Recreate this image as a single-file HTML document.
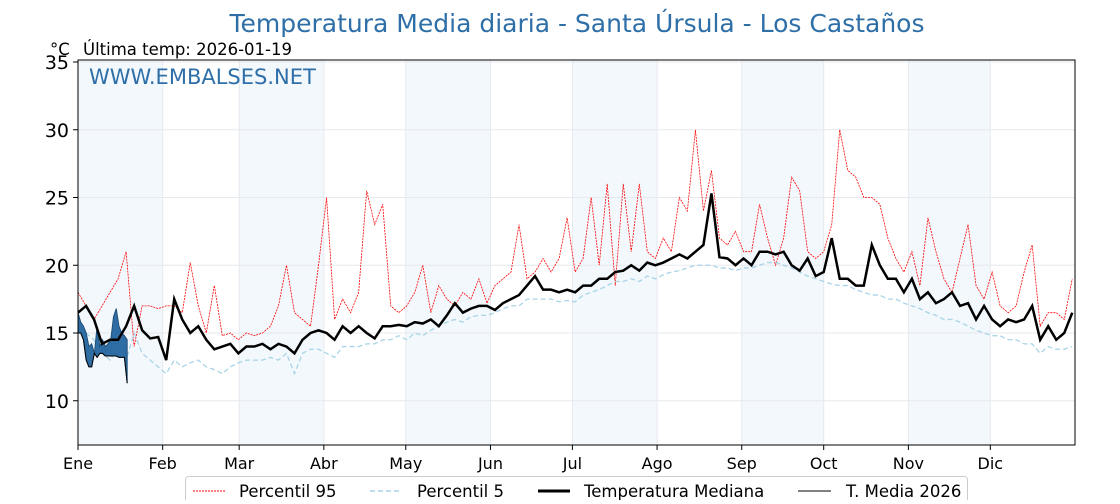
<!DOCTYPE html>
<html><head><meta charset="utf-8"><style>
body{margin:0;background:#fff;font-family:"DejaVu Sans","Liberation Sans",sans-serif;}
svg text{font-family:"DejaVu Sans","Liberation Sans",sans-serif;}
</style></head><body>
<svg id="chart" width="1120" height="500" xmlns="http://www.w3.org/2000/svg">
<g id="bands"></g><g id="grid"></g><g id="series"></g><g id="axes"></g>
<text x="577" y="32" text-anchor="middle" font-size="25" fill="#2e6fa8">Temperatura Media diaria - Santa Úrsula - Los Castaños</text>
<text x="50" y="55" font-size="16.5">°C</text>
<text x="83" y="55" font-size="16.5">Última temp: 2026-01-19</text>
<text x="89" y="84" font-size="21" fill="#2e6fa8">WWW.EMBALSES.NET</text>
<g>
<rect x="185.5" y="476.5" width="782" height="30" rx="3" fill="#fff" stroke="#ccc"/>
<line x1="193" y1="491" x2="225" y2="491" stroke="red" stroke-width="1" stroke-dasharray="2,1"/>
<text x="239" y="497" font-size="16.5">Percentil 95</text>
<line x1="370" y1="491" x2="402" y2="491" stroke="#a8d4e6" stroke-width="1.5" stroke-dasharray="5,3"/>
<text x="417" y="497" font-size="16.5">Percentil 5</text>
<line x1="538" y1="491" x2="570" y2="491" stroke="#000" stroke-width="3"/>
<text x="584" y="497" font-size="16.5">Temperatura Mediana</text>
<line x1="798" y1="491" x2="831" y2="491" stroke="#000" stroke-width="1"/>
<text x="846" y="497" font-size="16.5">T. Media 2026</text>
</g>
</svg>
<script>
const months=["Ene","Feb","Mar","Abr","May","Jun","Jul","Ago","Sep","Oct","Nov","Dic"];
const monthStart=[0,31,59,90,120,151,181,212,243,273,304,334];
const yTicks=[10,15,20,25,30,35];
const median=[16.5,17.0,16.0,14.2,14.5,14.5,15.5,17.0,15.2,14.6,14.7,
13.0,17.5,16.0,15.0,15.5,14.5,13.8,14.0,14.2,13.5,
14.0,14.0,14.2,13.8,14.2,14.0,13.5,14.5,15.0,15.2,
15.0,14.5,15.5,15.0,15.5,15.0,14.6,15.5,15.5,15.6,
15.5,15.8,15.7,16.0,15.5,16.3,17.2,16.5,16.8,17.0,17.0,
16.7,17.2,17.5,17.8,18.5,19.2,18.2,18.2,18.0,18.2,
18.0,18.5,18.5,19.0,19.0,19.5,19.6,20.0,19.6,20.2,
20.0,20.2,20.5,20.8,20.5,21.0,21.5,25.3,20.6,20.5,20.0,
20.5,20.0,21.0,21.0,20.8,21.0,20.0,19.6,20.5,19.2,
19.5,22.0,19.0,19.0,18.5,18.5,21.5,20.0,19.0,19.0,
18.0,19.0,17.5,18.0,17.2,17.5,18.0,17.0,17.2,16.0,
17.0,16.0,15.5,16.0,15.8,16.0,17.0,14.5,15.5,14.5,15.0,16.5];
const p95=[18,17,16,17,18,19,21,14,17,17,16.8,
17,17,16.5,20.2,17,15,18.5,14.8,15,14.5,
15,14.8,15,15.5,17,20,16.5,16,15.5,20,
25,16,17.5,16.5,18,25.5,23,24.5,17,16.5,
17,18,20,16.5,18.5,17.5,17,18,17.5,19,17.2,
18.5,19,19.5,23,19,19.5,20.5,19.5,20.5,23.5,
19.5,20.5,25,20,26,18.5,26,21,26,21,
20.5,22,21,25,24,30,24,27,22,21.5,22.5,
21,21,24.5,22,20,22,26.5,25.5,21,20.5,
21,23,30,27,26.5,25,25,24.5,22,20.5,
19.5,21,18.5,23.5,21,19,18,20.5,23,18.5,
17.5,19.5,17,16.5,17,19.5,21.5,15.5,16.5,16.5,16,19];
const p5=[15,15,14.5,13.5,13,14,13,15,13.5,13,12.5,
12,13,12.5,12.8,13,12.5,12.3,12,12.5,12.8,
13,13,13,13.2,13,13.5,12,13.5,13.8,13.8,
13.5,13.2,14,14,14,14.2,14.2,14.5,14.5,14.8,
14.5,15,14.8,15.2,15.5,15.8,16,15.8,16.2,16.3,16.3,
16.5,16.8,17,17,17.5,17.5,17.5,17.5,17.3,17.4,
17.3,17.8,18,18.2,18.5,18.8,18.8,19.0,18.8,19.2,
19,19.3,19.5,19.6,19.8,20,20,20,19.8,19.8,19.6,
19.8,19.8,20,20.2,20.2,20,19.8,19.5,19.2,19,
18.8,18.6,18.5,18.5,18.2,18,17.8,17.8,17.5,17.5,
17.2,17,16.8,16.5,16.3,16,16,15.8,15.5,15.2,
15,14.8,14.8,14.5,14.5,14.2,14.2,13.5,14,13.8,13.8,14];
const t2026High=[16.5,15.8,15.5,15.0,14.0,14.2,13.5,15.5,14.0,14.5,14.0,14.2,14.5,16.2,16.8,15.5,15.0,14.8,14.5];
const t2026Low=[15.0,15.0,14.5,13.0,12.5,12.5,13.5,13.2,13.5,13.5,13.3,13.3,13.3,13.3,13.3,13.2,13.2,13.2,11.3];

const X0=78,X1=1075,Y0=62,YK=13.55,YB=445;
const xs=d=>X0+d*(X1-X0)/365;
const ys=v=>Y0+(35-v)*YK;
const NS="http://www.w3.org/2000/svg";
function mk(tag,attrs,parent){const e=document.createElementNS(NS,tag);for(const k in attrs)e.setAttribute(k,attrs[k]);document.getElementById(parent).appendChild(e);return e;}
monthStart.forEach((d,i)=>{
  const end=i<11?monthStart[i+1]:365;
  if(i%2===0){const r=mk("rect",{x:xs(d),y:Y0-2,width:xs(end)-xs(d),height:YB-Y0+2,fill:"#f3f8fc"},"bands");
  
  }
  const g=mk("line",{x1:xs(d),x2:xs(d),y1:Y0-2,y2:YB,stroke:"#e6e9ee"},"grid");
  
  
  const t=mk("text",{x:xs(d),y:YB+24,"font-size":16,"text-anchor":"middle"},"axes");t.textContent=months[i];
  
  
  mk("line",{x1:xs(d),x2:xs(d),y1:YB,y2:YB+5,stroke:"#000"},"axes");
});
yTicks.forEach(v=>{
  const g=mk("line",{x1:X0,x2:X1,y1:ys(v),y2:ys(v),stroke:"#e6e9ee"},"grid");
  
  
  mk("line",{x1:X0-5,x2:X0,y1:ys(v),y2:ys(v),stroke:"#000"},"axes");
  const t=mk("text",{x:X0-9,y:ys(v)+7,"font-size":19,"text-anchor":"end"},"axes");t.textContent=v;
  
  
});
const fr=mk("rect",{x:X0,y:Y0-2,width:X1-X0,height:YB-Y0+2,fill:"none",stroke:"#000"},"axes");


function pts(arr){const n=arr.length;return arr.map((v,i)=>xs(i*364/(n-1))+","+ys(v)).join(" ");}
const a=mk("polyline",{points:pts(p95),fill:"none",stroke:"red","stroke-width":0.8,"stroke-dasharray":"2,1"},"series");


const b=mk("polyline",{points:pts(p5),fill:"none",stroke:"#a8d4e6","stroke-width":1.3,"stroke-dasharray":"5,3"},"series");


const hp=t2026High.map((v,i)=>xs(i)+","+ys(v));
const lp=t2026Low.map((v,i)=>xs(i)+","+ys(v)).reverse();
const f=mk("polygon",{points:hp.concat(lp).join(" "),fill:"#2e6da4","stroke":"#1f4f7a","stroke-width":1},"series");


const l=mk("polyline",{points:t2026Low.map((v,i)=>xs(i)+","+ys(v)).join(" "),fill:"none",stroke:"#000","stroke-width":1},"series");


const m=mk("polyline",{points:pts(median),fill:"none",stroke:"#000","stroke-width":2.5},"series");


</script>
</body></html>
